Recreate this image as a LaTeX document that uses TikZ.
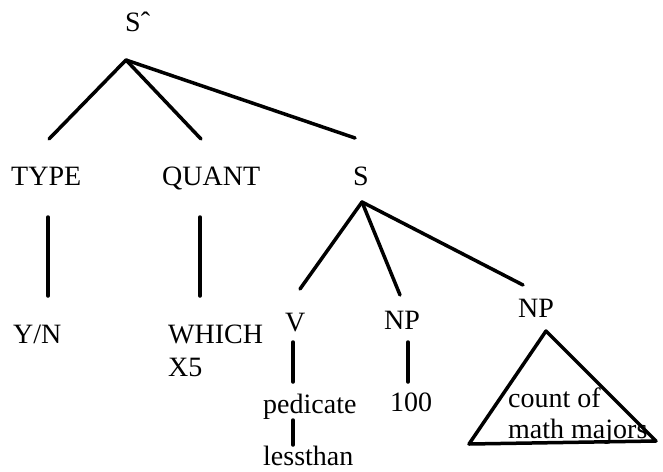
\documentclass[tikz,border=0pt]{standalone}
\usepackage{fontspec}
\setmainfont{Liberation Serif}
\usepackage{tikz}
\usetikzlibrary{calc}

\tikzset{
  lbl/.style={anchor=base west, inner sep=0pt, font=\fontsize{28}{31}\selectfont},
  branch/.style={line width=3.5pt, line cap=round}
}

\begin{document}
\begin{tikzpicture}[x=1pt, y=-1pt]
        \useasboundingbox (0,0) rectangle (663,471);
        % labels
        \node[lbl] (root) at (125,31) {S\char"02C6};
        \node[lbl] (type) at (11,185) {TYPE};
        \node[lbl] (quant) at (162,185) {QUANT};
        \node[lbl] (sent) at (353,185) {S};
        \node[lbl] (yn) at (13,343) {Y/N};
        \node[lbl] (which) at (168,343) {WHICH};
        \node[lbl] (xfive) at (168,376) {X5};
        \node[lbl] (verb) at (285,331) {V};
        \node[lbl] (np) at (384,329) {NP};
        \node[lbl] (npb) at (518,317) {NP};
        \node[lbl] (pred) at (263,413) {pedicate};
        \node[lbl] (less) at (263,465) {lessthan};
        \node[lbl] (hundred) at (390,411) {100};
        \node[lbl] (countof) at (508,407) {count of};
        \node[lbl] (majors) at (508,438) {math majors};
        % branch ends
        \coordinate (rootfork) at (126,60);
        \coordinate (sfork) at (362,202);
        \coordinate (npfork) at (546,331);
        \foreach \n/\p in {typeup/{49,139}, quantup/{201,139}, sentup/{355,138},
            verbup/{300,289}, npup/{400,295}, npbup/{523,285},
            typedn/{48,217}, typebot/{48,296}, quantdn/{200,217}, quantbot/{200,296},
            verbdn/{293,342}, verbbot/{293,382}, preddn/{293,420}, predbot/{293,445},
            npdn/{408,342}, npbot/{408,382}, tril/{469,444}, trir/{656,441}}
          \coordinate (\n) at (\p);
        \foreach \a/\b in {rootfork/typeup, rootfork/quantup, rootfork/sentup,
            sfork/verbup, sfork/npup, sfork/npbup, typedn/typebot, quantdn/quantbot,
            verbdn/verbbot, preddn/predbot, npdn/npbot}
          \draw[branch] (\a) -- (\b);
        \draw[branch, line join=round] (npfork) -- (tril) -- (trir) -- cycle;
      \end{tikzpicture}
\end{document}
